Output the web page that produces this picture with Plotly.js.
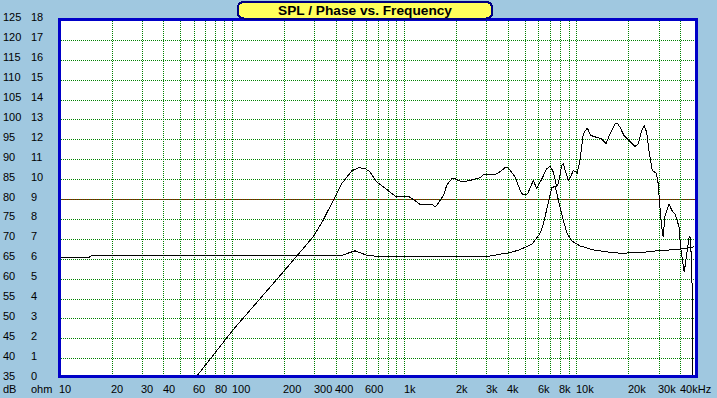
<!DOCTYPE html>
<html>
<head>
<meta charset="utf-8">
<script src="https://cdn.plot.ly/plotly-3.0.1.min.js"></script>
<style>
html,body{margin:0;padding:0;background:#A0C8E0;}
#chart{width:717px;height:398px;}
#chart .gridlayer path, #chart .shapelayer path, #chart .scatterlayer path { shape-rendering: crispEdges !important; }
</style>
</head>
<body>
<div id="chart"></div>
<script>
// ---------- data ----------
const splFreq = [57, 62.6, 83, 101, 198, 237, 282, 295, 336, 385, 431, 493, 539, 589, 630, 688, 787, 899, 940, 1050, 1122, 1227, 1436, 1500, 1535, 1678, 1756, 1876, 1962, 2145, 2398, 2741, 2866, 3351, 3502, 3830, 4000, 4376, 4680, 4850, 5003, 5180, 5585, 5848, 6256, 6680, 6982, 7300, 7634, 7800, 8170, 8340, 8610, 8916, 9204, 9530, 10050, 10420, 10890, 11490, 12020, 13030, 13930, 14760, 15560, 16630, 17140, 17770, 18750, 19850, 21730, 22700, 23750, 24600, 25400, 26200, 27400, 29000, 29660, 30340, 31030, 31700, 32430, 34280, 35980, 37100, 37940, 39140, 40000, 41100, 42000, 42950, 43920, 44880, 45730, 46330, 46950, 47200];
const splDb = [33.6, 35.8, 42.7, 47.3, 61.9, 66, 69.8, 70.7, 74.8, 79.8, 84, 87.2, 88, 87.8, 86.9, 84.4, 82.5, 80.6, 80.8, 80.8, 80, 78.8, 78.8, 78.2, 78.5, 81, 83.6, 85.2, 85.2, 84.4, 84.8, 85.5, 86.2, 86.3, 86.7, 88, 87.9, 85.7, 82.3, 81.2, 81.2, 81.5, 84.8, 82.7, 85.2, 87.7, 88.4, 86.9, 83.2, 84, 88.6, 89, 86.9, 84.8, 85.7, 87.3, 86.7, 89.8, 96.5, 98, 96.1, 95.5, 95.2, 94, 96.5, 99, 99.2, 98.2, 96.1, 95, 93.3, 94, 97.3, 98.6, 96.9, 92.3, 87.3, 86.5, 84, 78.2, 73.2, 70.7, 75.7, 78.8, 76.9, 76.5, 75.2, 73.2, 68.2, 64, 61.7, 64.8, 68.2, 70.7, 70.3, 61.5, 54.8, 30];

const impFreq = [10, 14.6, 15.2, 422, 515, 603, 719, 1000, 2990, 3580, 4093, 4640, 5003, 5470, 5970, 6140, 6380, 6820, 7140, 7470, 7800, 8170, 8730, 9330, 10420, 12440, 14890, 17770, 23210, 29000, 39620, 48000];
const impOhm = [6.08, 6.08, 6.17, 6.17, 6.42, 6.2, 6.13, 6.13, 6.13, 6.25, 6.33, 6.47, 6.58, 6.75, 7.17, 7.33, 7.75, 8.92, 9.58, 9.67, 8.92, 8.25, 7.33, 6.92, 6.67, 6.47, 6.37, 6.3, 6.33, 6.42, 6.5, 6.62];

const dbTicks = [35, 40, 45, 50, 55, 60, 65, 70, 75, 80, 85, 90, 95, 100, 105, 110, 115, 120, 125];
const ohmTicks = [0, 1, 2, 3, 4, 5, 6, 7, 8, 9, 10, 11, 12, 13, 14, 15, 16, 17, 18];
const gridFreqs = [20, 30, 40, 50, 60, 70, 80, 90, 100, 200, 300, 400, 500, 600, 700, 800, 900, 1000, 2000, 3000, 4000, 5000, 6000, 7000, 8000, 9000, 10000, 20000, 30000, 40000];
const labelFreqs = [10, 20, 30, 40, 60, 80, 100, 200, 300, 400, 600, 1000, 2000, 3000, 4000, 6000, 8000, 10000, 20000, 30000, 40000];
const labelText = ["10", "20", "30", "40", "60", "80", "100", "200", "300", "400", "600", "1k", "2k", "3k", "4k", "6k", "8k", "10k", "20k", "30k", "40kHz"];
const refLevelDb = [80];
const titleText = "SPL / Phase vs. Frequency";
const unitLabels = ["dB", "ohm"];

// ---------- geometry & styling ----------
const FONT = "Liberation Sans, Arial, sans-serif";
const GRID = "#008000";
const BORDER = "#0000C8";
const W = 717, H = 398;
const M = {l: 61, r: 22, t: 21, b: 23};
const plotW = W - M.l - M.r, plotH = H - M.t - M.b;
// x scale: 172.2 px per decade, 100 Hz at column centre 232.5
const pxPerDecade = 172.2;
const xr = [2 + (M.l - 232.5) / pxPerDecade, 2 + (W - M.r - 232.5) / pxPerDecade];
// y scale: 3.98 px per dB, 80 dB at row centre 199.5
const pxPerDb = 3.98;
const yr = [80 - (H - M.b - 199.5) / pxPerDb, 80 + (199.5 - M.t) / pxPerDb];
// ohm axis: 0 ohm == 35 dB, 5 dB per ohm
const y2r = [(yr[0] - 35) / 5, (yr[1] - 35) / 5];

const xFrac = (f) => (Math.log10(f) - xr[0]) / (xr[1] - xr[0]);
const yFrac = (v) => (v - yr[0]) / (yr[1] - yr[0]);

const traces = [
  {x: splFreq, y: splDb, type: 'scatter', mode: 'lines', line: {color: '#000000', width: 1}, hoverinfo: 'skip'},
  {x: impFreq, y: impOhm, type: 'scatter', mode: 'lines', yaxis: 'y2', line: {color: '#000000', width: 1}, hoverinfo: 'skip'}
];

const ann = [];
const lblFont = {family: FONT, size: 11, color: '#000000'};
const base = {showarrow: false, borderpad: 0, borderwidth: 0, font: lblFont, xanchor: 'left', yanchor: 'middle'};
dbTicks.forEach((v, i) => {
  ann.push(Object.assign({}, base, {xref: 'paper', x: 0, xshift: -58, yref: 'paper', y: yFrac(v), yshift: 3, text: String(v)}));
  ann.push(Object.assign({}, base, {xref: 'paper', x: 0, xshift: -30, yref: 'paper', y: yFrac(v), yshift: 3, text: String(ohmTicks[i])}));
});
labelFreqs.forEach((f, i) => {
  ann.push(Object.assign({}, base, {xref: 'paper', x: xFrac(f), xshift: -1, yref: 'paper', y: 0, yshift: -14, text: labelText[i]}));
});
ann.push(Object.assign({}, base, {xref: 'paper', x: 0, xshift: -58, yref: 'paper', y: 0, yshift: -14, text: unitLabels[0]}));
ann.push(Object.assign({}, base, {xref: 'paper', x: 0, xshift: -30, yref: 'paper', y: 0, yshift: -14, text: unitLabels[1]}));

// title box (pixel geometry converted to paper fractions)
const px2x = (px) => (px - M.l) / plotW;
const px2y = (py) => (H - M.b - py) / plotH;
const bx0 = px2x(238), bx1 = px2x(492), byTop = px2y(2), byBot = px2y(18.5);
const rx = 6 / plotW, ry = 6 / plotH;
const boxPath = `M ${bx0 + rx},${byTop} L ${bx1 - rx},${byTop} Q ${bx1},${byTop} ${bx1},${byTop - ry} L ${bx1},${byBot + ry} Q ${bx1},${byBot} ${bx1 - rx},${byBot} L ${bx0 + rx},${byBot} Q ${bx0},${byBot} ${bx0},${byBot + ry} L ${bx0},${byTop - ry} Q ${bx0},${byTop} ${bx0 + rx},${byTop} Z`;

ann.push({xref: 'paper', x: (bx0 + bx1) / 2, yref: 'paper', y: (byTop + byBot) / 2, text: titleText, showarrow: false,
  xanchor: 'center', yanchor: 'middle', font: {family: FONT, size: 13.7, color: '#000000', weight: 'bold'}, borderpad: 0, borderwidth: 0});

const shapes = [
  {type: 'line', xref: 'paper', x0: 0, x1: 1, yref: 'y', y0: refLevelDb[0], y1: refLevelDb[0], line: {color: '#C00000', width: 1}, layer: 'between'},
  {type: 'path', xref: 'paper', yref: 'paper', path: boxPath, fillcolor: '#FFFF5A', line: {color: '#000080', width: 2}, layer: 'above'}
];

const layout = {
  width: W, height: H,
  margin: {l: M.l, r: M.r, t: M.t, b: M.b, pad: 0},
  paper_bgcolor: '#A0C8E0',
  plot_bgcolor: '#FFFFFF',
  showlegend: false,
  xaxis: {type: 'log', range: xr, tickmode: 'array', tickvals: gridFreqs, showticklabels: false, ticks: '',
    showgrid: true, gridcolor: GRID, gridwidth: 1, griddash: '1px,1px', showline: true, linecolor: BORDER, linewidth: 3,
    mirror: true, zeroline: false, fixedrange: true},
  yaxis: {range: yr, tickmode: 'array', tickvals: dbTicks, showticklabels: false, ticks: '',
    showgrid: true, gridcolor: GRID, gridwidth: 1, griddash: '1px,1px', showline: true, linecolor: BORDER, linewidth: 3,
    mirror: true, zeroline: false, fixedrange: true},
  yaxis2: {overlaying: 'y', range: y2r, visible: false, showgrid: false, zeroline: false, fixedrange: true},
  annotations: ann,
  shapes: shapes
};

Plotly.newPlot('chart', traces, layout, {displayModeBar: false, staticPlot: true});
</script>
</body>
</html>
